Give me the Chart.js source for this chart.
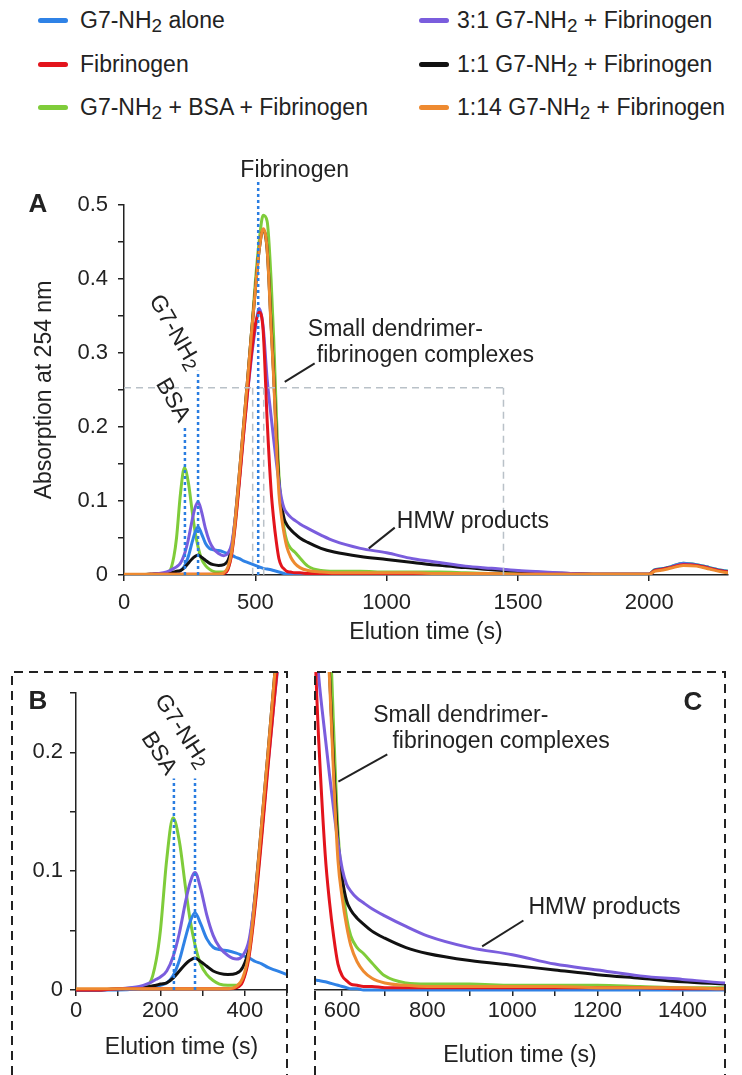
<!DOCTYPE html>
<html>
<head>
<meta charset="utf-8">
<script src="https://cdn.jsdelivr.net/npm/chart.js@4.4.0/dist/chart.umd.min.js"></script>
<style>
  html, body { margin: 0; padding: 0; background: #fff; }
  #page { position: relative; width: 742px; height: 1075px; overflow: hidden;
          font-family: 'Liberation Sans', Arial, sans-serif; color: #222; }
  canvas { position: absolute; }
  .leg { position: absolute; height: 28px; line-height: 28px; font-size: 23px; white-space: nowrap; }
  .leg i { position: absolute; left: 0; top: 12px; width: 30px; height: 5px; border-radius: 3px; }
  .leg span { position: absolute; top: 0; }
  .leg sub { font-size: 0.82em; vertical-align: -0.22em; line-height: 0; }
</style>
</head>
<body>
<div id="page">
  <div id="legend"></div>
  <canvas id="chartA" width="742" height="520" style="left:0;top:130px"></canvas>
  <canvas id="chartB" width="300" height="413" style="left:0;top:662px"></canvas>
  <canvas id="chartC" width="442" height="413" style="left:300px;top:662px"></canvas>
</div>
<script>
// elution time grid (s)
const elutionTimes = [0, 50, 100, 150, 175, 190, 200, 215, 230, 245, 260, 270, 282, 295, 310, 325, 340, 360, 380, 395,
  410, 425, 440, 455, 470, 485, 500, 515, 530, 545, 560, 570, 580, 590, 600, 610, 620, 635, 650, 670,
  700, 750, 800, 900, 1000, 1100, 1200, 1300, 1400, 1500, 1600, 1700, 1800, 1900, 2000,
  2020, 2040, 2080, 2130, 2180, 2230, 2280, 2300];

// absorption at 254 nm for each sample
const g7Alone = [0, 0, 0, 0.001, 0.002, 0.003, 0.004, 0.006, 0.012, 0.025, 0.045, 0.057, 0.065, 0.056, 0.043, 0.036, 0.034, 0.033, 0.031, 0.029,
  0.027, 0.024, 0.022, 0.019, 0.017, 0.015, 0.013, 0.011, 0.009, 0.008, 0.007, 0.006, 0.005, 0.004, 0.003, 0.002, 0.001, 0.001, 0, 0,
  0, 0, 0, 0, 0, 0, 0, 0, 0, 0, 0, 0, 0, 0, 0,
  0.007, 0.008, 0.011, 0.016, 0.014, 0.010, 0.006, 0.005];
const fibrinogen = [0, 0, 0.001, 0.001, 0.001, 0.001, 0.001, 0.001, 0.001, 0.001, 0.001, 0.001, 0.001, 0.001, 0.001, 0.001, 0.001, 0.001, 0.002, 0.007,
  0.028, 0.072, 0.128, 0.188, 0.245, 0.298, 0.338, 0.355, 0.330, 0.210, 0.115, 0.075, 0.045, 0.022, 0.012, 0.008, 0.005, 0.004, 0.003, 0.003,
  0.002, 0.002, 0.002, 0.002, 0.002, 0.002, 0.002, 0.002, 0.001, 0.001, 0.001, 0.001, 0.001, 0.001, 0.001,
  0.006, 0.007, 0.010, 0.014, 0.013, 0.009, 0.005, 0.004];
const g7BsaFib = [0, 0, 0.001, 0.002, 0.006, 0.025, 0.050, 0.110, 0.145, 0.125, 0.085, 0.060, 0.038, 0.022, 0.013, 0.008, 0.005, 0.004, 0.004, 0.008,
  0.030, 0.075, 0.132, 0.195, 0.258, 0.325, 0.395, 0.452, 0.486, 0.478, 0.400, 0.320, 0.220, 0.135, 0.092, 0.062, 0.046, 0.036, 0.031, 0.023,
  0.012, 0.006, 0.005, 0.005, 0.004, 0.004, 0.004, 0.003, 0.002, 0.002, 0.001, 0.001, 0.001, 0.001, 0.001,
  0.007, 0.008, 0.011, 0.016, 0.014, 0.010, 0.006, 0.005];
const ratio31 = [0, 0, 0.001, 0.003, 0.006, 0.009, 0.011, 0.016, 0.028, 0.048, 0.075, 0.090, 0.099, 0.086, 0.063, 0.046, 0.036, 0.029, 0.026, 0.029,
  0.042, 0.080, 0.132, 0.190, 0.245, 0.293, 0.333, 0.360, 0.335, 0.265, 0.215, 0.183, 0.153, 0.125, 0.103, 0.090, 0.084, 0.078, 0.074, 0.069,
  0.063, 0.054, 0.046, 0.036, 0.030, 0.022, 0.017, 0.012, 0.009, 0.006, 0.004, 0.002, 0.001, 0.001, 0.001,
  0.006, 0.007, 0.010, 0.015, 0.013, 0.009, 0.005, 0.004];
const ratio11 = [0, 0, 0.001, 0.002, 0.003, 0.004, 0.005, 0.006, 0.010, 0.016, 0.022, 0.025, 0.027, 0.024, 0.020, 0.016, 0.014, 0.013, 0.014, 0.019,
  0.036, 0.082, 0.140, 0.200, 0.262, 0.325, 0.385, 0.440, 0.466, 0.440, 0.340, 0.270, 0.190, 0.125, 0.095, 0.076, 0.068, 0.061, 0.056, 0.050,
  0.044, 0.036, 0.031, 0.025, 0.021, 0.017, 0.013, 0.010, 0.007, 0.005, 0.003, 0.002, 0.001, 0.001, 0.001,
  0.006, 0.007, 0.010, 0.014, 0.013, 0.009, 0.005, 0.004];
const ratio114 = [0.001, 0.001, 0.001, 0.001, 0.001, 0.001, 0.001, 0.001, 0.001, 0.001, 0.001, 0.001, 0.001, 0.001, 0.001, 0.001, 0.001, 0.001, 0.003, 0.010,
  0.032, 0.080, 0.140, 0.200, 0.262, 0.325, 0.385, 0.440, 0.468, 0.440, 0.335, 0.265, 0.180, 0.110, 0.078, 0.055, 0.038, 0.024, 0.016, 0.010,
  0.006, 0.004, 0.003, 0.003, 0.003, 0.003, 0.002, 0.002, 0.002, 0.001, 0.001, 0.001, 0.001, 0.001, 0.001,
  0.005, 0.006, 0.009, 0.013, 0.012, 0.008, 0.004, 0.003];

const seriesNames = ['G7-NH2 alone', 'Fibrinogen', 'G7-NH2 + BSA + Fibrinogen',
  '3:1 G7-NH2 + Fibrinogen', '1:1 G7-NH2 + Fibrinogen', '1:14 G7-NH2 + Fibrinogen'];
const seriesValues = [g7Alone, fibrinogen, g7BsaFib, ratio31, ratio11, ratio114];
const seriesColors = ['#2f82e6', '#e3141c', '#7fcc3a', '#7a5ddd', '#111111', '#ee8a30'];
const drawOrder = [4, 1, 5, 2, 3, 0];   // 0 = drawn on top

// tick positions
const xTicksA = [0, 500, 1000, 1500, 2000];
const yTicksA = [0, 0.05, 0.1, 0.15, 0.2, 0.25, 0.3, 0.35, 0.4, 0.45, 0.5];
const xTicksB = [0, 100, 200, 300, 400, 500];
const yTicksB = [0, 0.05, 0.1, 0.15, 0.2, 0.25];
const xTicksC = [600, 700, 800, 900, 1000, 1100, 1200, 1300, 1400, 1500];

const FONT = "'Liberation Sans', Arial, sans-serif";
const TEXT_FONT = '23px ' + FONT;
const SUB_FONT = '19px ' + FONT;
const INK = '#222';
const DOT_BLUE = '#2a7de1';
const DASH_GRAY = '#b9c1c8';

Chart.defaults.font.family = FONT;
Chart.defaults.color = INK;

/**
 * Legend in two columns, drawn as html text
 */
function buildLegend() {
  const colLeft = [38, 419];
  const textLeft = [42, 38];
  const rowTop = [6, 50, 93];
  const box = document.getElementById('legend');
  seriesNames.forEach((name, i) => {
    const col = Math.floor(i / 3);
    const el = document.createElement('div');
    el.className = 'leg';
    el.style.left = colLeft[col] + 'px';
    el.style.top = rowTop[i % 3] + 'px';
    el.innerHTML = `<i style="background:${seriesColors[i]}"></i>` +
      `<span style="left:${textLeft[col]}px">${name.replace('NH2', 'NH<sub>2</sub>')}</span>`;
    box.appendChild(el);
  });
}

/**
 * Text, leaders, marker lines, panel letter and dashed frame
 */
const annotatePlugin = {
  id: 'annotate',
  afterDatasetsDraw(chart, args, opts) {
    const { ctx, chartArea: area, scales: { x, y } } = chart;
    ctx.save();
    (opts.items || []).forEach(it => {
      ctx.setLineDash(it.dash || []);
      ctx.strokeStyle = it.color || INK;
      ctx.lineWidth = it.width || 2;
      if (it.type === 'line') {
        ctx.beginPath();
        ctx.moveTo(x.getPixelForValue(it.t1), y.getPixelForValue(it.v1));
        ctx.lineTo(x.getPixelForValue(it.t2), y.getPixelForValue(it.v2));
        ctx.stroke();
      } else if (it.type === 'text') {
        ctx.save();
        ctx.translate(x.getPixelForValue(it.t), y.getPixelForValue(it.v));
        ctx.rotate((it.rotate || 0) * Math.PI / 180);
        ctx.fillStyle = INK;
        ctx.textBaseline = 'middle';
        ctx.font = TEXT_FONT;
        const w1 = ctx.measureText(it.text).width;
        ctx.font = SUB_FONT;
        const w2 = it.sub ? ctx.measureText(it.sub).width : 0;
        const x0 = it.align === 'center' ? -(w1 + w2) / 2 : 0;
        ctx.textAlign = 'left';
        ctx.font = TEXT_FONT;
        ctx.fillText(it.text, x0, 0);
        if (it.sub) {
          ctx.font = SUB_FONT;
          ctx.fillText(it.sub, x0 + w1, 5);
        }
        ctx.restore();
      }
    });

    if (opts.letter) {
      ctx.font = 'bold 26px ' + FONT;
      ctx.fillStyle = INK;
      ctx.textAlign = 'center';
      ctx.textBaseline = 'middle';
      ctx.fillText(opts.letter.text, opts.letter.px, opts.letter.py);
    }

    if (opts.frame) {
      const left = opts.frame.left != null ? opts.frame.left : area.left;
      const top = opts.frame.top != null ? opts.frame.top : area.top;
      const right = area.right;
      ctx.setLineDash([9, 6]);
      ctx.strokeStyle = INK;
      ctx.lineWidth = 2;
      ctx.beginPath();
      ctx.moveTo(left, chart.height);
      ctx.lineTo(left, top);
      ctx.lineTo(right, top);
      ctx.lineTo(right, chart.height);
      ctx.stroke();
    }
    ctx.restore();
  }
};

function makeDatasets(clip) {
  return seriesValues.map((vals, i) => ({
    label: seriesNames[i],
    data: elutionTimes.map((t, j) => ({ x: t, y: vals[j] })),
    borderColor: seriesColors[i],
    borderWidth: 3,
    pointRadius: 0,
    fill: false,
    cubicInterpolationMode: 'monotone',
    order: drawOrder[i],
    clip
  }));
}

const tenths = v => Math.abs(v * 10 - Math.round(v * 10)) < 1e-6 ? String(Math.round(v * 10) / 10) : '';
const every200 = v => v % 200 === 0 ? String(v) : '';
const plain = v => String(v);

const tickFont = { family: FONT, size: 22 };
const titleFont = { family: FONT, size: 23 };

function axisStyle(tickValues, labelFn, padding, extra) {
  return Object.assign({
    type: 'linear',
    afterBuildTicks: s => { s.ticks = tickValues.map(v => ({ value: v })); },
    ticks: { padding, font: tickFont, color: INK, callback: labelFn, autoSkip: false, maxRotation: 0, minRotation: 0 },
    grid: { drawOnChartArea: false, drawTicks: true, tickLength: 6, color: INK, lineWidth: 1.5 },
    border: { display: true, color: INK, width: 1.5 }
  }, extra);
}

function baseOptions(padding, scales, annotate) {
  return {
    responsive: false,
    animation: false,
    layout: { padding },
    plugins: { legend: { display: false }, tooltip: { enabled: false }, annotate },
    scales
  };
}

// peak markers
const bsaPeak = 232;
const g7Peak = 282;
const fibPeak = 511;

// Panel A: full chromatogram
new Chart(document.getElementById('chartA'), {
  type: 'line',
  data: { datasets: makeDatasets(undefined) },
  options: baseOptions({ left: 27, top: 75, right: 14, bottom: 0 }, {
    x: axisStyle(xTicksA, plain, 9, {
      min: 0, max: 2300,
      afterFit: s => { s.height = 75; },
      title: { display: true, text: 'Elution time (s)', font: titleFont, color: INK }
    }),
    y: axisStyle(yTicksA, tenths, 10, {
      min: 0, max: 0.5,
      afterFit: s => { s.width = 97; },
      title: { display: true, text: 'Absorption at 254 nm', font: titleFont, color: INK }
    })
  }, {
    letter: { text: 'A', px: 38, py: 75 },
    items: [
      { type: 'line', t1: 0, v1: 0.253, t2: 1445, v2: 0.253, color: DASH_GRAY, dash: [7, 5], width: 1.5 },
      { type: 'line', t1: 1445, v1: 0.253, t2: 1445, v2: 0, color: DASH_GRAY, dash: [7, 5], width: 1.5 },
      { type: 'line', t1: 490, v1: 0.253, t2: 490, v2: 0, color: DASH_GRAY, dash: [7, 5], width: 1.5 },
      { type: 'line', t1: 532, v1: 0.253, t2: 532, v2: 0, color: DASH_GRAY, dash: [7, 5], width: 1.5 },
      { type: 'line', t1: bsaPeak, v1: 0, t2: bsaPeak, v2: 0.2, color: DOT_BLUE, dash: [3, 3], width: 2.5 },
      { type: 'line', t1: g7Peak, v1: 0, t2: g7Peak, v2: 0.276, color: DOT_BLUE, dash: [3, 3], width: 2.5 },
      { type: 'line', t1: fibPeak, v1: 0, t2: fibPeak, v2: 0.535, color: DOT_BLUE, dash: [3, 3], width: 2.5 },
      { type: 'text', t: 650, v: 0.547, text: 'Fibrinogen', align: 'center' },
      { type: 'text', t: 193, v: 0.328, text: 'G7-NH', sub: '2', align: 'center', rotate: 60 },
      { type: 'text', t: 185, v: 0.236, text: 'BSA', align: 'center', rotate: 60 },
      { type: 'text', t: 700, v: 0.331, text: 'Small dendrimer-' },
      { type: 'text', t: 734, v: 0.297, text: 'fibrinogen complexes' },
      { type: 'line', t1: 726, v1: 0.286, t2: 612, v2: 0.261 },
      { type: 'text', t: 1039, v: 0.072, text: 'HMW products' },
      { type: 'line', t1: 1031, v1: 0.064, t2: 932, v2: 0.036 }
    ]
  }),
  plugins: [annotatePlugin]
});

// Panel B: early elution zoom
new Chart(document.getElementById('chartB'), {
  type: 'line',
  data: { datasets: makeDatasets({ left: 1, top: 21, right: 1, bottom: 2 }) },
  options: baseOptions({ left: 0, top: 31, right: 13, bottom: 10 }, {
    x: axisStyle(xTicksB, every200, 2, {
      min: 0, max: 500,
      afterFit: s => { s.height = 75; },
      title: { display: true, text: 'Elution time (s)', font: titleFont, color: INK }
    }),
    y: axisStyle(yTicksB, tenths, 7, {
      min: 0, max: 0.25,
      afterFit: s => { s.width = 76; }
    })
  }, {
    letter: { text: 'B', px: 38, py: 40 },
    frame: { left: 12, top: 10 },
    items: [
      { type: 'line', t1: bsaPeak, v1: 0, t2: bsaPeak, v2: 0.178, color: DOT_BLUE, dash: [3, 3], width: 2.5 },
      { type: 'line', t1: g7Peak, v1: 0, t2: g7Peak, v2: 0.178, color: DOT_BLUE, dash: [3, 3], width: 2.5 },
      { type: 'text', t: 251, v: 0.218, text: 'G7-NH', sub: '2', align: 'center', rotate: 57 },
      { type: 'text', t: 196, v: 0.199, text: 'BSA', align: 'center', rotate: 57 }
    ]
  }),
  plugins: [annotatePlugin]
});

// Panel C: tail zoom
new Chart(document.getElementById('chartC'), {
  type: 'line',
  data: { datasets: makeDatasets({ left: 1, top: 0, right: 1, bottom: 2 }) },
  options: baseOptions({ left: 15, top: 10, right: 17, bottom: 2 }, {
    x: axisStyle(xTicksC, every200, 2, {
      min: 536, max: 1500,
      afterFit: s => { s.height = 83; },
      title: { display: true, text: 'Elution time (s)', font: titleFont, color: INK }
    }),
    y: { type: 'linear', display: false, min: 0, max: 0.27 }
  }, {
    letter: { text: 'C', px: 393, py: 41 },
    frame: {},
    items: [
      { type: 'text', t: 673, v: 0.233, text: 'Small dendrimer-' },
      { type: 'text', t: 718, v: 0.211, text: 'fibrinogen complexes' },
      { type: 'line', t1: 706, v1: 0.2, t2: 591, v2: 0.177 },
      { type: 'text', t: 1038, v: 0.07, text: 'HMW products' },
      { type: 'line', t1: 1026, v1: 0.059, t2: 929, v2: 0.037 }
    ]
  }),
  plugins: [annotatePlugin]
});

buildLegend();
</script>
</body>
</html>
